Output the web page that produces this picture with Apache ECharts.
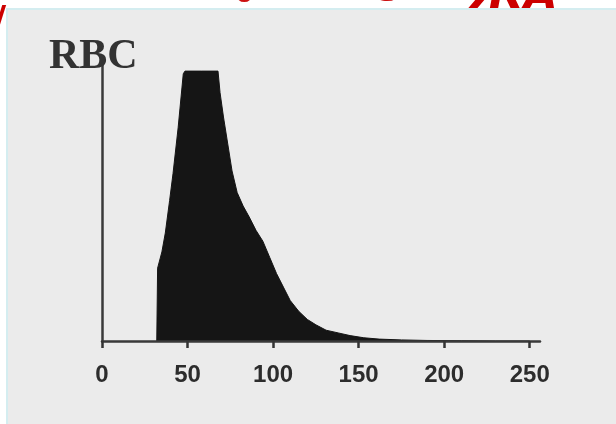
<!DOCTYPE html>
<html>
<head>
<meta charset="utf-8">
<style>html,body{margin:0;padding:0;background:#fff;}#c{width:616px;height:424px;}</style>
<script src="https://cdn.jsdelivr.net/npm/echarts@6/dist/echarts.min.js"></script>
</head>
<body>
<div id="c"></div>
<script>
// Cell volume (fL) and relative count (% of clipped peak)
const volumes = [32, 32.5, 35, 37, 39.5, 41.5, 44.5, 47.5, 48.5, 58, 67.8, 69, 71, 73.5, 76, 79, 82.5, 86, 90, 94, 98, 102, 106, 110, 115, 120, 125, 131, 138, 145, 153, 162, 175, 190, 210, 230, 250];
const counts  = [0, 27, 33, 40, 52, 62, 79, 99, 100, 100, 100, 92, 83, 73, 63, 55, 50, 46, 41, 37, 31, 25, 20, 15, 11, 8, 6, 4, 3, 2, 1.2, 0.7, 0.4, 0.2, 0.1, 0, 0];
const xTicks = [0, 50, 100, 150, 200, 250];
const yName = 'RBC';

const chart = echarts.init(document.getElementById('c'));
const labelFont = '"Liberation Sans", Arial, sans-serif';
chart.setOption({
  backgroundColor: '#ffffff',
  animation: false,
  title: {
    text: yName, left: 44, top: 31,
    textStyle: { fontFamily: '"Liberation Serif", serif', fontSize: 42, fontWeight: 'bold', color: '#333333' }
  },
  graphic: [
    { type: 'text', z: 0, left: 236, top: -16, style: { text: 'о', fill: '#cc1111', font: 'bold 24px "DejaVu Sans"' } },
    { type: 'text', z: 0, left: 377, top: -25, style: { text: '3', fill: '#cc1111', font: 'bold 34px "DejaVu Sans"' } },
    { type: 'text', z: 0, left: 470, top: -24, style: { text: 'ЖА', fill: '#cc0000', font: 'italic bold 44px "DejaVu Sans"' } },
    { type: 'text', z: 0, left: -7, top: 4, style: { text: '/', fill: '#cc0000', font: 'bold 36px "DejaVu Sans"' } },
    { type: 'rect', z: 1, shape: { x: 7, y: 9, width: 620, height: 430 },
      style: { fill: '#ebebeb', stroke: '#d4edf0', lineWidth: 2 } }
  ],
  grid: { left: 102, top: 63, width: 438, height: 278, containLabel: false },
  xAxis: {
    type: 'value', min: 0, max: 256, z: 5,
    axisLine: { show: true, onZero: false, lineStyle: { color: '#3a3a3a', width: 2.5 } },
    axisTick: { show: true, customValues: xTicks, length: 7, lineStyle: { color: '#333', width: 2.5 } },
    axisLabel: { customValues: xTicks, margin: 22, fontFamily: labelFont, fontSize: 24, fontWeight: 'bold', color: '#2c2c2c' },
    splitLine: { show: false }
  },
  yAxis: {
    type: 'value', min: 0, max: 103, z: 5,
    axisLine: { show: true, lineStyle: { color: '#3a3a3a', width: 2.5 } },
    axisTick: { show: false }, axisLabel: { show: false }, splitLine: { show: false }
  },
  series: [{
    type: 'line', z: 3,
    data: volumes.map((v, i) => [v, counts[i]]),
    symbol: 'none', smooth: false,
    lineStyle: { color: '#151515', width: 1 },
    areaStyle: { color: '#151515', opacity: 1 }
  }]
});
</script>
</body>
</html>
